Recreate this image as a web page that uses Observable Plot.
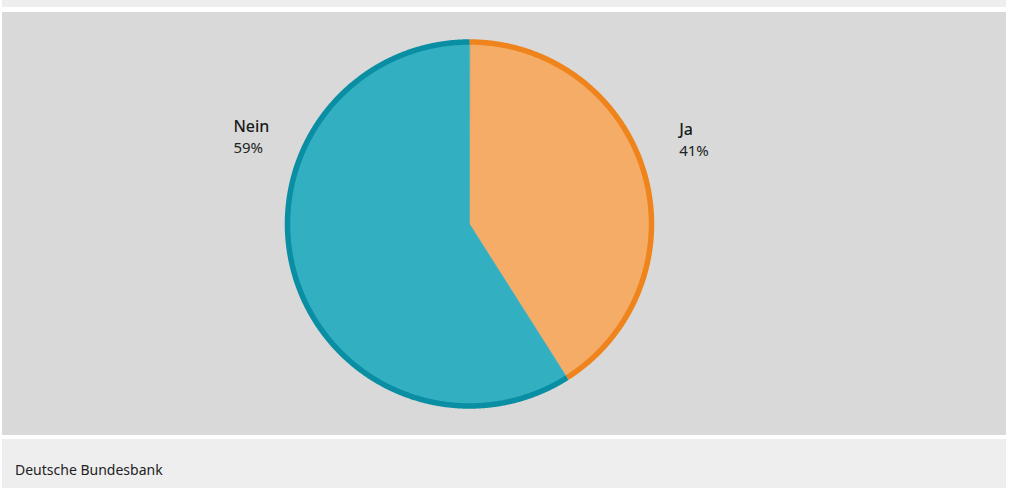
<!DOCTYPE html>
<html>
<head>
<meta charset="utf-8">
<script src="https://cdn.jsdelivr.net/npm/d3@7"></script>
<script src="https://cdn.jsdelivr.net/npm/@observablehq/plot@0.6"></script>
<style>
  html, body { margin: 0; padding: 0; background: #ffffff; width: 1010px; height: 488px; overflow: hidden; }
  body { position: relative; font-family: "Noto Sans", "Open Sans", sans-serif; }
  #topstrip { position: absolute; left: 2px; top: 0; width: 1004px; height: 7px; background: #eeeeee; }
  #panel { position: absolute; left: 2px; top: 12px; width: 1004px; height: 423px; background: #d9d9d9; }
  #footer { position: absolute; left: 2px; top: 439px; width: 1004px; height: 49px; background: #eeeeee; }
  #source { position: absolute; left: 13px; top: 21px; font-size: 14px; color: #222; }
  #panel svg { display: block; }
</style>
</head>
<body>
<div id="topstrip"></div>
<div id="panel"></div>
<div id="footer"><div id="source">Deutsche Bundesbank</div></div>
<script>
// Data
const categories = ["Ja", "Nein"];
const shares = [41, 59];
const valueLabels = ["41%", "59%"];
const fillColors = ["#f5ac66", "#33afc2"];
const strokeColors = ["#f0841c", "#0a8ea3"];

// Build slice geometry (angles clockwise from 12 o'clock) from the data
const total = d3.sum(shares);
let acc = 0;
const slices = categories.map((c, i) => {
  const a0 = acc / total * 2 * Math.PI;
  acc += shares[i];
  const a1 = acc / total * 2 * Math.PI;
  return {cat: c, a0, a1, fill: fillColors[i], stroke: strokeColors[i], label: valueLabels[i]};
});

const step = Math.PI / 720;
const fillPts = [];
const arcPts = [];
for (const s of slices) {
  fillPts.push({cat: s.cat, fill: s.fill, x: 0, y: 0});
  const n = Math.max(2, Math.ceil((s.a1 - s.a0) / step));
  for (let k = 0; k <= n; k++) {
    const a = s.a0 + (s.a1 - s.a0) * k / n;
    const p = {cat: s.cat, fill: s.fill, stroke: s.stroke, x: Math.sin(a), y: -Math.cos(a)};
    fillPts.push(p);
    arcPts.push(p);
  }
}

// Label anchor positions (unit-circle coordinates), side decided by mid angle
const labelData = slices.map(s => {
  const mid = (s.a0 + s.a1) / 2;
  const right = Math.sin(mid) > 0;
  return {cat: s.cat, label: s.label, x: right ? 1.152 : -1.297, y: right ? -0.487 : -0.508};
});

const W = 1004, H = 423, cx = 467, cy = 211.5, r = 182;

const chart = Plot.plot({
  width: W,
  height: H,
  margin: 0,
  style: {background: "transparent", overflow: "visible"},
  x: {domain: [-1, 1], range: [cx - r, cx + r], axis: null},
  y: {domain: [-1, 1], range: [cy - r, cy + r], axis: null},
  color: {type: "identity"},
  marks: [
    Plot.line(fillPts, {x: "x", y: "y", z: "cat", fill: "fill", stroke: "fill", strokeWidth: 0.6, curve: "linear-closed"}),
    Plot.line(arcPts, {x: "x", y: "y", z: "cat", stroke: "stroke", strokeWidth: 5.5, strokeLinecap: "butt", strokeLinejoin: "round"}),
    Plot.text(labelData, {x: "x", y: "y", text: "cat", textAnchor: "start", lineAnchor: "bottom", fontSize: 16, fontWeight: 500, fill: "#1a1a1a", fontFamily: "Noto Sans"}),
    Plot.text(labelData, {x: "x", y: "y", text: "label", textAnchor: "start", lineAnchor: "bottom", dy: 21, fontSize: 15, fill: "#222222", fontFamily: "Noto Sans"})
  ]
});
document.getElementById("panel").appendChild(chart);
</script>
</body>
</html>
